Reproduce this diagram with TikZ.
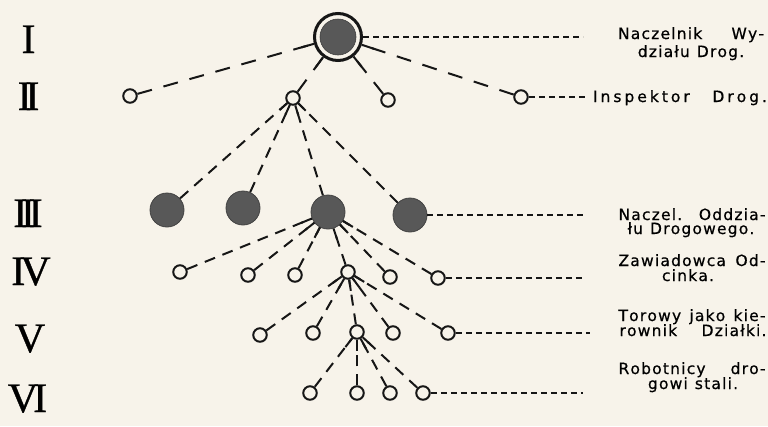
\documentclass[tikz,border=0pt]{standalone}
\usepackage{fontspec}
\usetikzlibrary{calc}
\newfontfamily\lblfont[FakeBold=0.6]{DejaVu Sans}
\newfontfamily\numfont[FakeBold=0.8]{Liberation Serif}
\definecolor{paper}{RGB}{247,243,234}
\definecolor{ink}{RGB}{22,22,22}
\definecolor{disc}{RGB}{88,88,88}

% spaced-out setting of the titles: a kern between any two letters
\newdimen\trk
\trk=1.2pt
\XeTeXinterchartoks 0 0 = {\kern\trk}
\newcommand\spaced{\XeTeXinterchartokenstate=1 \spaceskip=7pt plus 40pt\relax}

% #1 style, #2 parent, #3 child, #4 length of the solid ray at the parent
\newcommand\tie[4]{%
  \draw[#1] (#3) -- (#2);
  \draw[stub] (#2) -- ($(#2)!#4!(#3)$);}

\begin{document}
\begin{tikzpicture}[x=1pt,y=-1pt,
  open/.style={circle, draw=ink, fill=paper, line width=2pt, minimum size=13.5pt, inner sep=0pt},
  full/.style={circle, fill=disc, draw=disc!75!black, line width=0.8pt, minimum size=34pt, inner sep=0pt},
  ring/.style={circle, draw=ink, fill=paper, line width=3pt, minimum size=47pt, inner sep=0pt},
  conn/.style={draw=ink, line width=2pt, dash pattern=on 11pt off 8pt},
  longconn/.style={draw=ink, line width=2pt, dash pattern=on 15pt off 12pt},
  stub/.style={draw=ink, line width=2pt},
  leader/.style={draw=ink, line width=1.2pt, dash pattern=on 6pt off 4pt},
  lbl/.style={anchor=base, inner sep=0pt, font=\lblfont\fontsize{15.5}{16}\selectfont\spaced},
  roman/.style={anchor=base, inner sep=0pt, font=\numfont\fontsize{42}{42}\selectfont}]

\fill[paper] (0,0) rectangle (768,426);
\useasboundingbox (0,0) rectangle (768,426);

% level numerals
\node[roman] (r1) at (28.5,53) {I};
\node[roman] (r2) at (28.5,110) {I\kern-6.3pt I};
\node[roman] (r3) at (28,227) {I\kern-6.3pt I\kern-6.3pt I};
\node[roman] (r4) at (31,285) {I\kern-5pt V};
\node[roman] (r5) at (30,352) {V};
\node[roman] (r6) at (27.5,412) {V\kern-5pt I};

% level I
\node[ring] (n1) at (338,37) {};
\fill[disc] (n1.center) circle (18pt);
\draw[disc!70!black, line width=0.6pt] (n1.center) circle (18pt);

% level II
\node[open] (a1) at (130,96) {};
\node[open] (a2) at (293,98) {};
\node[open] (a3) at (388,100) {};
\node[open] (a4) at (521,97) {};

% level III
\node[full] (b1) at (167,210) {};
\node[full] (b2) at (243,208) {};
\node[full] (b3) at (328,212) {};
\node[full] (b4) at (410,215) {};

% level IV
\node[open] (c1) at (180,272) {};
\node[open] (c2) at (248,275) {};
\node[open] (c3) at (295,275) {};
\node[open] (c4) at (348,272) {};
\node[open] (c5) at (390,277) {};
\node[open] (c6) at (438,278) {};

% level V
\node[open] (d1) at (260,335) {};
\node[open] (d2) at (313,333) {};
\node[open] (d3) at (357,332) {};
\node[open] (d4) at (393,333) {};
\node[open] (d5) at (448,333) {};

% level VI
\node[open] (e1) at (310,393) {};
\node[open] (e2) at (357,393) {};
\node[open] (e3) at (390,393) {};
\node[open] (e4) at (423,393) {};

% subordination lines
\foreach \c in {a1,a2,a3,a4} {\tie{longconn}{n1}{\c}{38pt}}
\foreach \c in {b1,b2,b3,b4} {\tie{conn}{a2}{\c}{18pt}}
\foreach \c in {c1,c2,c3,c4,c5,c6} {\tie{conn}{b3}{\c}{29pt}}
\foreach \c in {d1,d2,d3,d4,d5} {\tie{conn}{c4}{\c}{19pt}}
\foreach \c in {e1,e2,e3,e4} {\tie{conn}{d3}{\c}{19pt}}

% leader lines to the titles
\coordinate (t1) at (583,37);
\coordinate (t2) at (588,97);
\coordinate (t3) at (583,215);
\coordinate (t4) at (582,278);
\coordinate (t5) at (590,333);
\coordinate (t6) at (583,393);
\draw[leader] (n1) -- (t1);
\draw[leader] (a4) -- (t2);
\draw[leader] (b4) -- (t3);
\draw[leader] (c6) -- (t4);
\draw[leader] (d5) -- (t5);
\draw[leader] (e4) -- (t6);

% titles
\node[lbl] (l1a) at (691,39) {\makebox[146pt][s]{Naczelnik Wy-}};
\node[lbl] (l1b) at (691,57) {działu Drog.};
\node[lbl] (l2) at (680,102) {\trk=3pt\makebox[174pt][s]{Inspektor Drog.}};
\node[lbl] (l3a) at (692,220) {\makebox[147pt][s]{Naczel. Oddzia-}};
\node[lbl] (l3b) at (691,234) {łu Drogowego.};
\node[lbl] (l4a) at (692,266) {\makebox[147pt][s]{Zawiadowca Od-}};
\node[lbl] (l4b) at (688,281) {cinka.};
\node[lbl] (l5a) at (692,321) {\makebox[147pt][s]{Torowy jako kie-}};
\node[lbl] (l5b) at (693,336) {\makebox[147pt][s]{rownik Działki.}};
\node[lbl] (l6a) at (692,374) {\makebox[147pt][s]{Robotnicy dro-}};
\node[lbl] (l6b) at (693,389) {gowi stali.};

\end{tikzpicture}
\end{document}
